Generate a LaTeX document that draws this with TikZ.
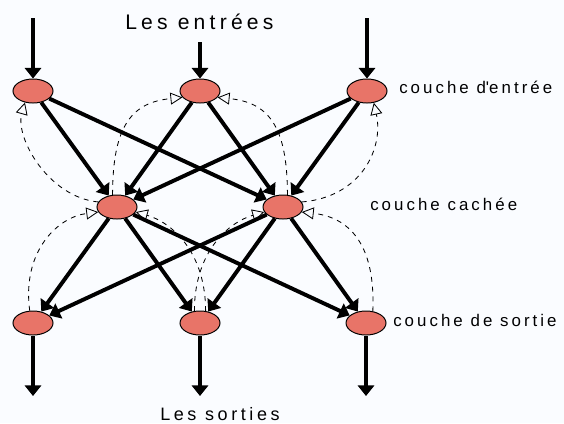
\documentclass[tikz,border=0pt]{standalone}
\usepackage{fontspec}
\setmainfont{Liberation Sans}
\usepackage{xcolor}
\definecolor{colorneur}{RGB}{232,116,104}
\definecolor{colorfond}{RGB}{250,252,255}
\usepackage{tikz}
\usetikzlibrary{arrows.meta,shapes.geometric}
\tikzstyle{neurone} = [ellipse, fill=colorneur, draw=black, line width=0.7pt, minimum width=1cm, minimum height=0.6cm, inner sep=0pt]
\tikzstyle{lien} = [-{Triangle[width=11.5pt,length=7.5pt]}, line width=2.8pt, black]
\tikzstyle{retour} = [-{Triangle[open,width=8.5pt,length=8.5pt]}, dash pattern=on 3.5pt off 3.5pt, line width=0.6pt, black]
\tikzstyle{couche} = [anchor=base west, inner sep=0pt, font=\fontsize{12}{14}\selectfont\addfontfeatures{LetterSpace=18}]

\begin{document}
\begin{tikzpicture}[x=0.025cm,y=-0.025cm]

  \fill[colorfond] (0,0) rectangle (564,423);
  \useasboundingbox (0,0) rectangle (564,423);

  % couche d'entree
  \node[neurone] (i1) at (33,91) {};
  \node[neurone] (i2) at (200,91) {};
  \node[neurone] (i3) at (367,91) {};
  % couche cachee
  \node[neurone] (h1) at (117,207) {};
  \node[neurone] (h2) at (283,207) {};
  % couche de sortie
  \node[neurone] (o1) at (33,323) {};
  \node[neurone] (o2) at (200,323) {};
  \node[neurone] (o3) at (366,323) {};

  \foreach \x/\y/\n in {33/18/1,200/42/2,367/18/3}
  \coordinate (e\n) at (\x,\y);
  \foreach \x/\n in {33/1,200/2,366/3}
  \coordinate (s\n) at (\x,396);

  \foreach \n in {1,2,3}
  \draw[lien] (e\n) -- (i\n);
  \foreach \n in {1,2,3}
  \draw[lien] (o\n) -- (s\n);

  \foreach \a in {i1,i2,i3}
  \foreach \b in {h1,h2}
  \draw[lien] (\a) -- (\b);

  \foreach \a in {h1,h2}
  \foreach \b in {o1,o2,o3}
  \draw[lien] (\a) -- (\b);

  % retours
  \draw[retour] (h1.165) .. controls +(-50,-5) and +(-10,35) .. (i1.235);
  \draw[retour] (h1.110) .. controls +(0,-70) and +(-50,5) .. (i2.200);
  \draw[retour] (h2.70) .. controls +(0,-70) and +(50,5) .. (i2.-20);
  \draw[retour] (h2.15) .. controls +(60,-5) and +(10,45) .. (i3.-60);
  \draw[retour] (o1.105) .. controls +(-8,-60) and +(-40,5) .. (h1.195);
  \draw[retour] (o2.115) .. controls +(0,-60) and +(-35,10) .. (h2.195);
  \draw[retour] (o2.65) .. controls +(0,-60) and +(35,10) .. (h1.-15);
  \draw[retour] (o3.60) .. controls +(3,-70) and +(45,5) .. (h2.-15);

  \node[anchor=base west, inner sep=0pt, font=\fontsize{15}{17}\selectfont\addfontfeatures{LetterSpace=20}] (entrees) at (125,29) {Les entrées};
  \node[anchor=base west, inner sep=0pt, font=\fontsize{12.8}{15}\selectfont\addfontfeatures{LetterSpace=20}] (sorties) at (160,420) {Les sorties};
  \node[couche] (ce) at (399,93) {couche d\textquotesingle entrée};
  \node[couche] (cc) at (370,210) {couche cachée};
  \node[couche] (cs) at (393,326) {couche de sortie};
\end{tikzpicture}
\end{document}
